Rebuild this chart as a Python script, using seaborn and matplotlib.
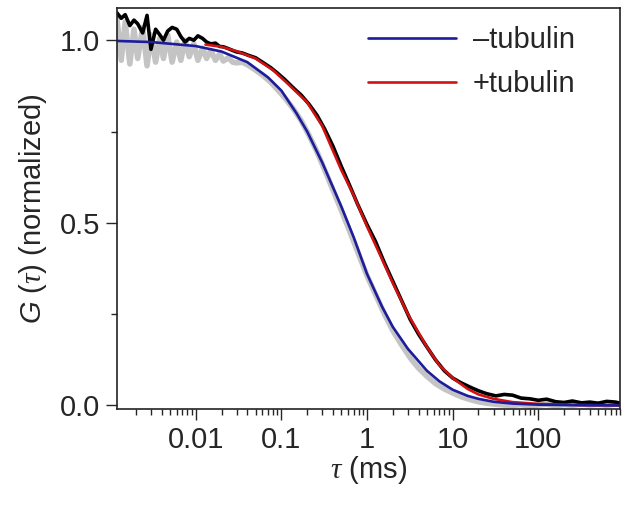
import pandas as pd
import matplotlib
matplotlib.use('Agg')
import matplotlib.pyplot as plt
import matplotlib.ticker as mticker
import seaborn as sns

sns.set_style('ticks')
plt.rcParams['font.family'] = ['Liberation Sans', 'DejaVu Sans']
plt.rcParams['mathtext.fontset'] = 'custom'
plt.rcParams['mathtext.it'] = 'Liberation Serif:italic'
plt.rcParams['mathtext.rm'] = 'Liberation Sans'
plt.rcParams['mathtext.sf'] = 'Liberation Sans:italic'

"""
FCS autocorrelation curves, normalized, with and without tubulin.
Gray / black = measured data, blue / red = fits.
"""

# measured lag times (ms)
tau_data = [
    0.0012, 0.00135, 0.0015, 0.0017, 0.0019, 0.0021, 0.0024, 0.0027, 0.003,
    0.0034, 0.0038, 0.0042, 0.0047, 0.0053, 0.006, 0.0067, 0.0075, 0.0084,
    0.0095, 0.0106, 0.012, 0.0134, 0.015, 0.017, 0.019, 0.021, 0.024, 0.027,
    0.03,
    0.035, 0.042, 0.05, 0.06, 0.075, 0.09, 0.11, 0.14, 0.17, 0.21, 0.26,
    0.32, 0.4, 0.5, 0.62, 0.78, 1.0, 1.25, 1.6, 2.0, 2.5, 3.2, 4.0, 5.0,
    6.3, 8.0, 10,
    12.5, 16, 20, 25, 32, 40, 50, 63, 80, 100, 125, 160, 200, 250, 320,
    400, 500, 630, 800, 900,
]

# -tubulin data (gray)
g_minus_data = [
    1.06, 0.945, 1.05, 0.935, 1.03, 0.95, 1.035, 0.93, 1.015,
    0.94, 1.005, 0.95, 1.015, 0.94, 0.995, 0.945, 1.0, 0.955,
    0.99, 0.945, 0.978, 0.95, 0.972, 0.945, 0.962, 0.943, 0.952, 0.94,
    0.938,
    0.94, 0.93, 0.918, 0.905, 0.885, 0.865, 0.842, 0.81, 0.78, 0.74, 0.695,
    0.645, 0.59, 0.535, 0.48, 0.42, 0.355, 0.305, 0.25, 0.205, 0.168, 0.13,
    0.102, 0.08, 0.06, 0.045, 0.034,
    0.024, 0.016, 0.01, 0.006, 0.003, 0.001, 0.0, 0.002, -0.002, 0.001,
    0.003, -0.001, 0.002, 0.0, 0.004, 0.001, 0.003, 0.0, 0.004, 0.002,
]

# +tubulin data (black)
g_plus_data = [
    1.075, 1.06, 1.07, 1.04, 1.055, 1.045, 1.02, 1.068, 0.975,
    1.03, 1.015, 1.0, 1.025, 1.035, 1.03, 1.01, 0.995, 1.005,
    1.0, 1.012, 1.005, 0.995, 0.99, 0.992, 0.983, 0.982, 0.977, 0.972,
    0.968,
    0.965, 0.958, 0.952, 0.94, 0.925, 0.91, 0.892, 0.868, 0.85, 0.825,
    0.795, 0.757, 0.71, 0.655, 0.605, 0.55, 0.495, 0.45, 0.39, 0.34, 0.29,
    0.235, 0.195, 0.16, 0.125, 0.095, 0.075,
    0.062, 0.05, 0.04, 0.032, 0.026, 0.03, 0.028, 0.02, 0.018, 0.014,
    0.017, 0.01, 0.008, 0.012, 0.007, 0.009, 0.006, 0.011, 0.009, 0.006,
]

# fit curves
tau_fit_minus = [0.0012, 0.003, 0.01, 0.02, 0.04, 0.07, 0.1, 0.15, 0.2, 0.3,
                 0.5, 0.7, 1.0, 1.5, 2, 3, 5, 7, 10, 15, 20, 30, 50, 100,
                 300, 900]
g_fit_minus = [0.998, 0.995, 0.984, 0.969, 0.94, 0.898, 0.862, 0.8, 0.75,
               0.665, 0.545, 0.46, 0.36, 0.27, 0.215, 0.155, 0.095, 0.066,
               0.043, 0.026, 0.018, 0.01, 0.005, 0.002, 0.0005, 0.0]

tau_fit_plus = [0.013, 0.02, 0.03, 0.05, 0.08, 0.12, 0.2, 0.3, 0.5, 0.7,
                1.0, 1.5, 2, 3, 5, 7, 10, 15, 20, 30, 50, 100, 300, 900]
g_fit_plus = [0.988, 0.982, 0.97, 0.95, 0.918, 0.88, 0.83, 0.765, 0.645,
              0.575, 0.49, 0.4, 0.335, 0.25, 0.16, 0.11, 0.075, 0.045, 0.03,
              0.018, 0.009, 0.004, 0.001, 0.0]

x_ticks = [0.01, 0.1, 1, 10, 100]
x_tick_labels = ['0.01', '0.1', '1', '10', '100']
y_ticks = [0.0, 0.5, 1.0]
y_tick_labels = ['0.0', '0.5', '1.0']

BLUE = '#1c1c9c'
RED = '#d01212'
GRAY = '#c4c4c4'
FS = 21


def main():
    data = pd.DataFrame({'tau': tau_data, 'minus': g_minus_data,
                         'plus': g_plus_data})
    fit_minus = pd.DataFrame({'tau': tau_fit_minus, 'G': g_fit_minus})
    fit_plus = pd.DataFrame({'tau': tau_fit_plus, 'G': g_fit_plus})

    fig = plt.figure(figsize=(6.25, 5.05), dpi=100)
    ax = fig.add_axes([0.187, 0.19, 0.805, 0.794])

    sns.lineplot(data=data, x='tau', y='minus', ax=ax, color=GRAY,
                 linewidth=4.0, sort=False, estimator=None)
    sns.lineplot(data=data, x='tau', y='plus', ax=ax, color='black',
                 linewidth=2.6, sort=False, estimator=None)
    sns.lineplot(data=fit_plus, x='tau', y='G', ax=ax, color=RED,
                 linewidth=1.9, sort=False, estimator=None,
                 label='+tubulin')
    sns.lineplot(data=fit_minus, x='tau', y='G', ax=ax, color=BLUE,
                 linewidth=1.9, sort=False, estimator=None,
                 label='\u2013tubulin')

    ax.set_xscale('log')
    ax.set_xlim(0.0012, 900)
    ax.set_ylim(-0.01, 1.088)

    ax.set_xticks(x_ticks)
    ax.set_xticklabels(x_tick_labels)
    ax.xaxis.set_minor_locator(mticker.LogLocator(base=10, subs=range(2, 10),
                                                  numticks=20))
    ax.xaxis.set_minor_formatter(mticker.NullFormatter())
    ax.set_yticks(y_ticks)
    ax.set_yticklabels(y_tick_labels)
    ax.yaxis.set_minor_locator(mticker.FixedLocator([0.25, 0.75]))

    ax.tick_params(axis='both', which='major', labelsize=FS, length=8,
                   width=1, direction='out', pad=4)
    ax.tick_params(axis='both', which='minor', length=4, width=1,
                   direction='out')
    for side in ['top', 'right', 'left', 'bottom']:
        ax.spines[side].set_visible(True)
        ax.spines[side].set_linewidth(1.2)
        ax.spines[side].set_color('#222222')

    ax.set_xlabel(r'$\tau$ (ms)', fontsize=FS, labelpad=0)
    ax.set_ylabel(r'$\mathsf{G}$ ($\tau$) (normalized)', fontsize=FS,
                  labelpad=8)

    handles, labels = ax.get_legend_handles_labels()
    ax.legend(handles[::-1], labels[::-1], loc='upper right',
              bbox_to_anchor=(0.935, 0.985), frameon=False,
              fontsize=FS, handlelength=3.0, labelspacing=0.55,
              handletextpad=0.6, borderaxespad=0.0)

    fig.savefig('out.png', dpi=100)


if __name__ == '__main__':
    main()
